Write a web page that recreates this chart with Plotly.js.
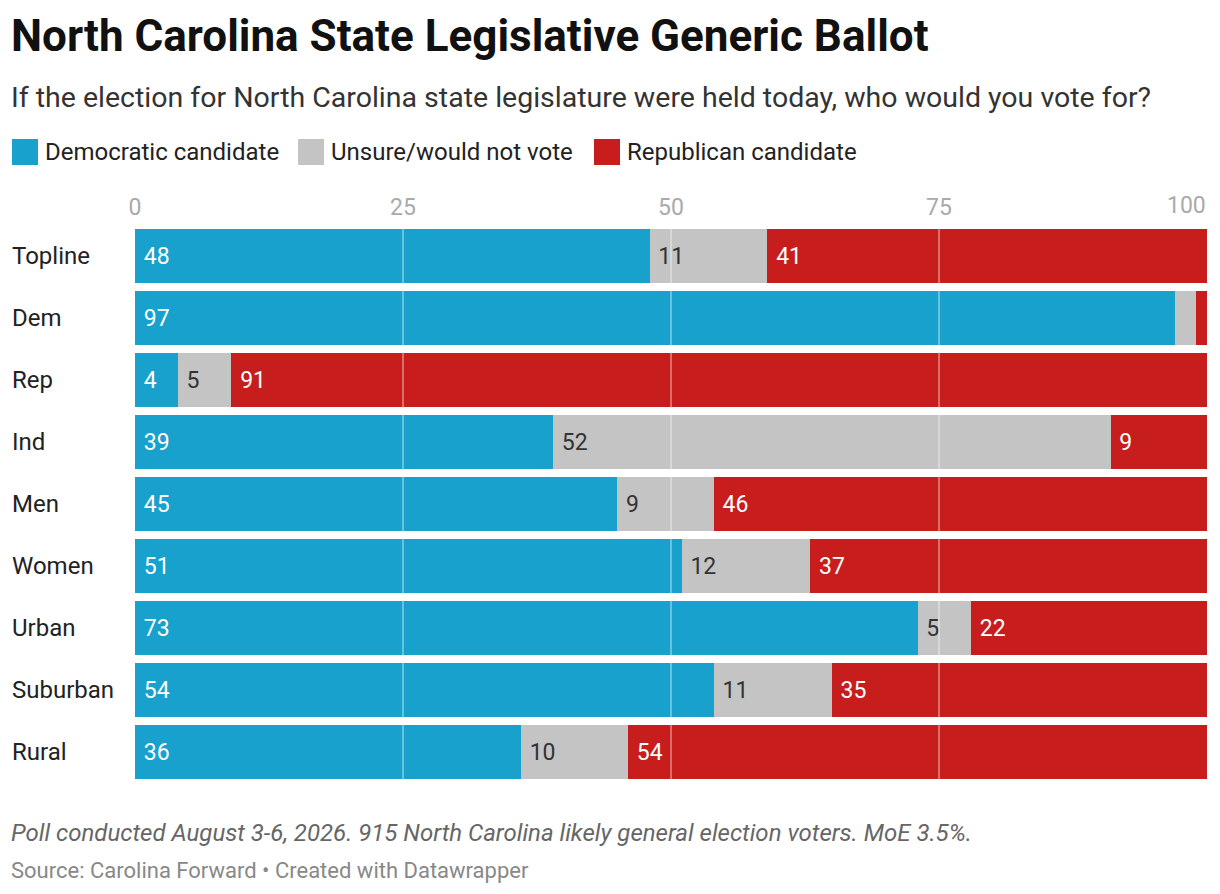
<!DOCTYPE html>
<html>
<head>
<meta charset="utf-8">
<script src="https://cdn.plot.ly/plotly-3.0.1.min.js"></script>
<style>
  html, body { margin: 0; padding: 0; background: #fff; }
  #chart { width: 1220px; height: 894px; }
</style>
</head>
<body>
<div id="chart"></div>
<script>
// data
const groups = ['Topline', 'Dem', 'Rep', 'Ind', 'Men', 'Women', 'Urban', 'Suburban', 'Rural'];
const democratic = [48, 97, 4, 39, 45, 51, 73, 54, 36];
const unsure = [11, 2, 5, 52, 9, 12, 5, 11, 10];
const republican = [41, 1, 91, 9, 46, 37, 22, 35, 54];
const seriesNames = ['Democratic candidate', 'Unsure/would not vote', 'Republican candidate'];
const seriesColors = ['#18a1cd', '#c4c4c4', '#c71e1d'];
const labelColors = ['#ffffff', '#333333', '#ffffff'];
const tickVals = [0, 25, 50, 75, 100];

// plot area in pixels, used to place text outside it
const W = 1220, H = 894;
const PL = 135, PR = 1207, PT = 225, PB = 783;
const px = x => (x - PL) / (PR - PL);
const py = y => (PB - y) / (PB - PT);

const FONT = 'Roboto, "Noto Sans", sans-serif';

const series = [democratic, unsure, republican];
const traces = series.map((vals, i) => ({
  type: 'bar',
  orientation: 'h',
  y: groups,
  x: vals,
  name: seriesNames[i],
  marker: { color: seriesColors[i], line: { width: 0 } },
  text: vals.map(v => v >= 4 ? '\u00a0' + v : ''),
  textposition: 'inside',
  insidetextanchor: 'start',
  textfont: { family: FONT, size: 23, color: labelColors[i] },
  constraintext: 'none',
  hoverinfo: 'skip',
  showlegend: false
}));

const annotations = [];
const shapes = [];

// header
annotations.push({
  xref: 'paper', yref: 'paper', x: px(9), y: py(36), xanchor: 'left', yanchor: 'middle',
  text: '<b>North Carolina State Legislative Generic Ballot</b>', showarrow: false,
  font: { family: FONT, size: 44, color: '#111111' }
});
annotations.push({
  xref: 'paper', yref: 'paper', x: px(9), y: py(98), xanchor: 'left', yanchor: 'middle',
  text: 'If the election for North Carolina state legislature were held today, who would you vote for?',
  showarrow: false, font: { family: FONT, size: 28.5, color: '#333333' }
});

// legend
const legendX = [12, 298, 594];
seriesNames.forEach((name, i) => {
  shapes.push({
    type: 'rect', xref: 'paper', yref: 'paper', layer: 'above',
    x0: px(legendX[i]), x1: px(legendX[i] + 26), y0: py(165), y1: py(139),
    fillcolor: seriesColors[i], line: { width: 0 }
  });
  annotations.push({
    xref: 'paper', yref: 'paper', x: px(legendX[i] + 31), y: py(152), xanchor: 'left', yanchor: 'middle',
    text: name, showarrow: false, font: { family: FONT, size: 24, color: '#222222' }
  });
});

// category labels, left aligned
groups.forEach(g => {
  annotations.push({
    xref: 'paper', yref: 'y', x: px(10), y: g, xanchor: 'left', yanchor: 'middle',
    text: g, showarrow: false, font: { family: FONT, size: 24, color: '#222222' }
  });
});

// last tick label is right aligned so it stays inside the chart
const lastTick = tickVals[tickVals.length - 1];
annotations.push({
  xref: 'x', yref: 'paper', x: lastTick, y: py(206), xanchor: 'right', yanchor: 'middle',
  text: String(lastTick), showarrow: false, borderpad: 0,
  font: { family: FONT, size: 23, color: '#aaaaaa' }
});

// grid lines drawn over the bars
tickVals.slice(1, -1).forEach(v => {
  shapes.push({
    type: 'line', xref: 'x', yref: 'paper', layer: 'above',
    x0: v, x1: v, y0: 0, y1: 1,
    line: { color: 'rgba(255,255,255,0.35)', width: 2 }
  });
});

// footer
annotations.push({
  xref: 'paper', yref: 'paper', x: px(9), y: py(833), xanchor: 'left', yanchor: 'middle',
  text: '<i>Poll conducted August 3-6, 2026. 915 North Carolina likely general election voters. MoE 3.5%.</i>',
  showarrow: false, font: { family: FONT, size: 24, color: '#666666' }
});
annotations.push({
  xref: 'paper', yref: 'paper', x: px(9), y: py(870), xanchor: 'left', yanchor: 'middle',
  text: 'Source: Carolina Forward \u2022 Created with Datawrapper',
  showarrow: false, font: { family: FONT, size: 22, color: '#888888' }
});

const layout = {
  width: W, height: H,
  margin: { l: PL, r: W - PR, t: PT, b: H - PB, pad: 0 },
  paper_bgcolor: '#ffffff', plot_bgcolor: '#ffffff',
  barmode: 'stack',
  bargap: 0.13,
  showlegend: false,
  font: { family: FONT },
  xaxis: {
    range: [0, 100], side: 'top', fixedrange: true,
    tickvals: tickVals.slice(0, -1), ticktext: tickVals.slice(0, -1).map(String),
    tickfont: { family: FONT, size: 23, color: '#aaaaaa' },
    ticks: '', showgrid: false, zeroline: false, showline: false,
    ticklabelstandoff: 4
  },
  yaxis: {
    autorange: 'reversed', fixedrange: true,
    showticklabels: false, ticks: '', showgrid: false, zeroline: false, showline: false
  },
  uniformtext: { mode: 'show', minsize: 10 },
  annotations: annotations,
  shapes: shapes
};

Plotly.newPlot('chart', traces, layout, { displayModeBar: false, staticPlot: true });
</script>
</body>
</html>
